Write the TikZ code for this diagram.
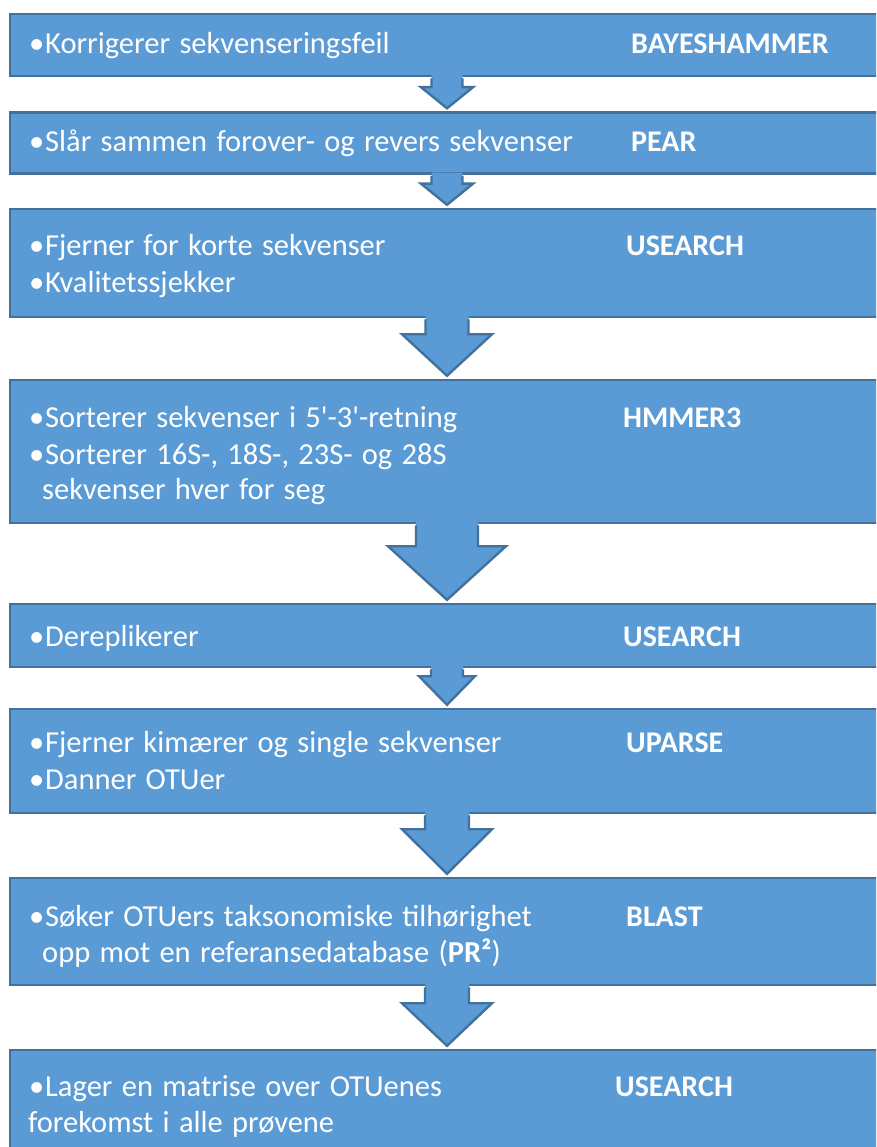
\documentclass[tikz,border=0pt]{standalone}
\usepackage{fontspec}
\setmainfont{Carlito}[Ligatures=TeXOff]
\usetikzlibrary{calc}

\definecolor{stepfill}{HTML}{5B9BD5}
\definecolor{stepline}{HTML}{41719C}

% body text: slightly wide word spacing, as in the slide
\newcommand\stepfont{\fontsize{30.5}{36}\selectfont\spaceskip=9.3pt plus 1pt\relax}
% bullet with a fixed gap before the text
\newcommand\bul{\makebox[16pt][l]{•}}

\tikzset{
  stepbox/.style={draw=stepline, line width=2.4pt, fill=stepfill,
    minimum width=874pt, inner sep=0pt},
  steptext/.style={anchor=base west, inner sep=0pt, text=white, font=\stepfont},
  tooltext/.style={anchor=base west, inner sep=0pt, text=white,
    font=\fontsize{30}{36}\selectfont\bfseries},
  arrowfill/.style={fill=stepfill},
  arrowline/.style={draw=stepline, line width=2.4pt, line join=miter},
}

% Block arrow from the bottom of box #1 to the top of box #2.
% #3: drop from #1.south to the head, #4: half shaft width, #5: half head width
\newcommand\flowarrow[5]{%
  \fill[arrowfill]
    ([xshift=-#4pt,yshift=2pt]#1.south) -- ([xshift=-#4pt,yshift=-#3pt]#1.south)
    -- ([xshift=-#5pt,yshift=-#3pt]#1.south) -- ([yshift=3pt]#2.north)
    -- ([xshift=#5pt,yshift=-#3pt]#1.south) -- ([xshift=#4pt,yshift=-#3pt]#1.south)
    -- ([xshift=#4pt,yshift=2pt]#1.south) -- cycle;
  \draw[arrowline]
    ([xshift=-#4pt,yshift=-1.2pt]#1.south) -- ([xshift=-#4pt,yshift=-#3pt]#1.south)
    -- ([xshift=-#5pt,yshift=-#3pt]#1.south) -- ([yshift=3pt]#2.north)
    -- ([xshift=#5pt,yshift=-#3pt]#1.south) -- ([xshift=#4pt,yshift=-#3pt]#1.south)
    -- ([xshift=#4pt,yshift=-1.2pt]#1.south);
}

\begin{document}
\begin{tikzpicture}[x=1pt, y=-1pt]
\useasboundingbox (0,0) rectangle (876,1147);
\clip (0,0) rectangle (876,1147);

% boxes
\node[stepbox, minimum height=62pt]  (b1) at (447, 45) {};
\node[stepbox, minimum height=61pt]  (b2) at (447, 143) {};
\node[stepbox, minimum height=108pt] (b3) at (447, 263) {};
\node[stepbox, minimum height=143pt] (b4) at (447, 451.5) {};
\node[stepbox, minimum height=63pt]  (b5) at (447, 635.5) {};
\node[stepbox, minimum height=104pt] (b6) at (447, 761) {};
\node[stepbox, minimum height=107pt] (b7) at (447, 931.5) {};
\node[stepbox, minimum height=120pt] (b8) at (447, 1110) {};

% arrows between the steps
\flowarrow{b1}{b2}{10}{15.5}{26}
\flowarrow{b2}{b3}{9}{15.5}{26}
\flowarrow{b3}{b4}{16}{21.5}{45}
\flowarrow{b4}{b5}{22}{31}{59}
\flowarrow{b5}{b6}{8}{16}{28}
\flowarrow{b6}{b7}{15}{22}{45}
\flowarrow{b7}{b8}{17}{22}{45}

% step 1
\node[steptext] (t1a) at (29, 54) {\bul Korrigerer sekvenseringsfeil};
\node[tooltext] (p1)  at (631, 54) {BAYESHAMMER};
% step 2
\node[steptext] (t2a) at (29, 152) {\bul Slår sammen forover- og revers sekvenser};
\node[tooltext] (p2)  at (631, 152) {PEAR};
% step 3
\node[steptext] (t3a) at (29, 256) {\bul Fjerner for korte sekvenser};
\node[steptext] (t3b) at (29, 292) {\bul Kvalitetssjekker};
\node[tooltext] (p3)  at (626, 256) {USEARCH};
% step 4
\node[steptext] (t4a) at (29, 427) {\bul Sorterer sekvenser i 5'-3'-retning};
\node[steptext] (t4b) at (29, 464) {\bul Sorterer 16S-, 18S-, 23S- og 28S};
\node[steptext] (t4c) at (42, 499) {sekvenser hver for seg};
\node[tooltext] (p4)  at (623, 427) {HMMER3};
% step 5
\node[steptext] (t5a) at (29, 646) {\bul Dereplikerer};
\node[tooltext] (p5)  at (623, 646) {USEARCH};
% step 6
\node[steptext] (t6a) at (29, 752) {\bul Fjerner kimærer og single sekvenser};
\node[steptext] (t6b) at (29, 789) {\bul Danner OTUer};
\node[tooltext] (p6)  at (626, 752) {UPARSE};
% step 7
\node[steptext] (t7a) at (29, 926) {\bul Søker OTUers taksonomiske tilhørighet};
\node[steptext] (t7b) at (42, 962) {opp mot en referansedatabase (\textbf{PR²})};
\node[tooltext] (p7)  at (626, 926) {BLAST};
% step 8
\node[steptext] (t8a) at (29, 1096) {\bul Lager en matrise over OTUenes};
\node[steptext] (t8b) at (28, 1132) {forekomst i alle prøvene};
\node[tooltext] (p8)  at (615, 1096) {USEARCH};
\end{tikzpicture}
\end{document}
